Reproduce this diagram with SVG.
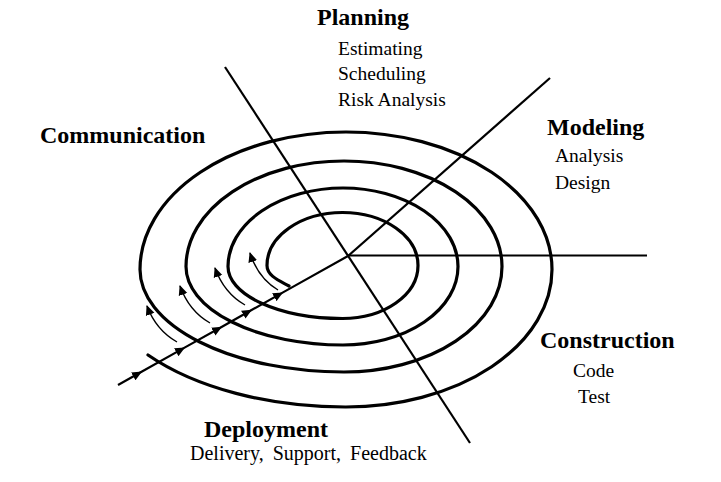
<svg xmlns="http://www.w3.org/2000/svg" width="721" height="482" viewBox="0 0 721 482">
<style>
.bg{fill:#fff}
.ring{fill:none;stroke:#000;stroke-width:3.2;stroke-linecap:round}
.ln{fill:none;stroke:#000;stroke-width:2.2}
.cv{fill:none;stroke:#000;stroke-width:1.4}
.t{font-family:"Liberation Serif","Times New Roman",serif;fill:#000}
.h{font-size:24px;font-weight:bold}
.s{font-size:19.5px}
</style>
<defs>
<marker id="ah" markerUnits="userSpaceOnUse" markerWidth="12" markerHeight="10" refX="10" refY="5" orient="auto"><path d="M0,0.5 L10,5 L0,9.5 z" fill="#000"/></marker>
<marker id="sa" markerUnits="userSpaceOnUse" markerWidth="11" markerHeight="10" refX="9" refY="5" orient="auto"><path d="M0,0.5 L10,5 L0,9.5 z" fill="#000"/></marker>
</defs>
<rect class="bg" x="0" y="0" width="721" height="482"/>
<g id="connectors">
<path id="spiral" class="ring" d="M289 286 C280 281 267 276 267 265.5 A75.5 53 0 0 1 342.5 212.5 A75.5 53 0 0 1 418 265.5 A75.5 53 0 0 1 342.5 318.5 A114.5 52 0 0 1 228 266.5 A115 78.5 0 0 1 343 188 A115 78.5 0 0 1 458 266.5 A115 78.5 0 0 1 343 345 A157 78.5 0 0 1 186 266.5 A158 105.5 0 0 1 344 161 A158 105.5 0 0 1 502 266.5 A158 105.5 0 0 1 344 372 A204 102.5 0 0 1 140 269.5 A206 137.5 0 0 1 346 132 A206 137.5 0 0 1 552 269.5 A206 137.5 0 0 1 346 407 A252 137.5 0 0 1 148 355"/>
<line class="ln" x1="225" y1="67" x2="470" y2="443"/>
<line class="ln" x1="348" y1="255.5" x2="647" y2="255.5"/>
<line class="ln" x1="348" y1="256" x2="550" y2="78"/>
<path class="ln" marker-mid="url(#ah)" d="M118 385 L142 371.5 L185 347.4 L222 326.7 L252 309.8 L283 292.4 L348 256"/>
<path class="cv" marker-end="url(#sa)" d="M177 342 q-21 -12 -30 -36"/>
<path class="cv" marker-end="url(#sa)" d="M210 323 q-21 -12 -30 -37"/>
<path class="cv" marker-end="url(#sa)" d="M245 305 q-21 -12 -30 -37"/>
<path class="cv" marker-end="url(#sa)" d="M278 290 q-20 -12 -28 -37"/>
</g>
<g id="planning">
<text class="t h" x="317" y="25">Planning</text>
<text class="t s" x="338" y="55">Estimating</text>
<text class="t s" x="338" y="80">Scheduling</text>
<text class="t s" x="338" y="106">Risk Analysis</text>
</g>
<g id="modeling">
<text class="t h" x="547" y="135">Modeling</text>
<text class="t s" x="555" y="162">Analysis</text>
<text class="t s" x="555" y="189">Design</text>
</g>
<g id="communication">
<text class="t h" x="40" y="143">Communication</text>
</g>
<g id="construction">
<text class="t h" x="540" y="348">Construction</text>
<text class="t s" x="573" y="377">Code</text>
<text class="t s" x="578" y="403">Test</text>
</g>
<g id="deployment">
<text class="t h" x="204" y="437">Deployment</text>
<text class="t s" x="190" y="460" style="font-size:20px;word-spacing:4px">Delivery, Support, Feedback</text>
</g>
</svg>
